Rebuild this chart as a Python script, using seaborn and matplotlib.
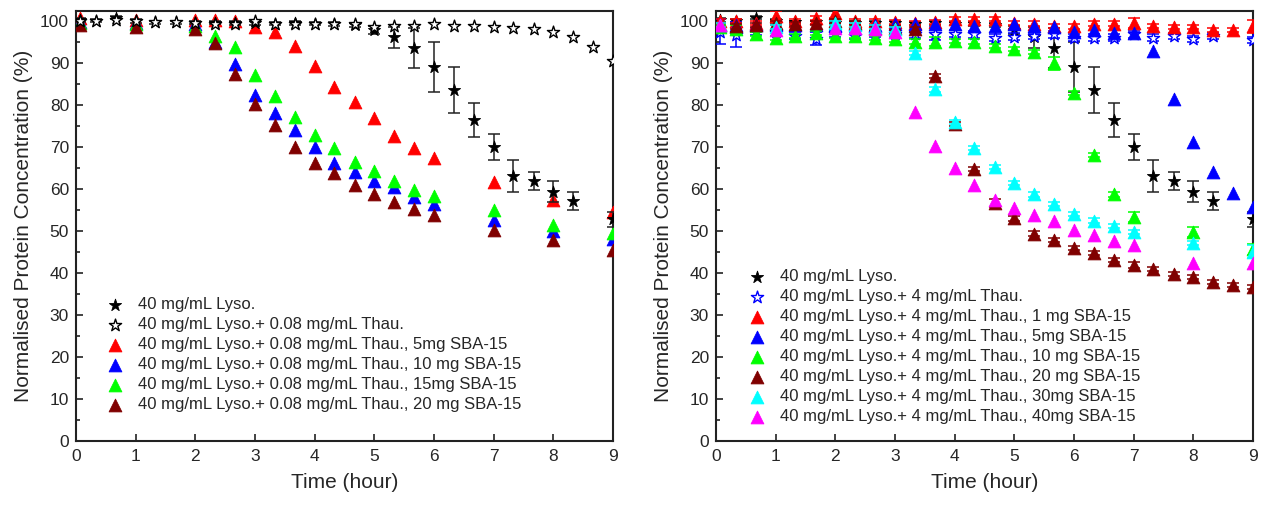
import numpy as np
import pandas as pd
import matplotlib
matplotlib.use("Agg")
import matplotlib.pyplot as plt
import seaborn as sns

nan = np.nan
# time grid (hours)
T = [0.07, 0.33, 0.67, 1.0, 1.33, 1.67, 2.0, 2.33, 2.67, 3.0, 3.33, 3.67, 4.0, 4.33,
     4.67, 5.0, 5.33, 5.67, 6.0, 6.33, 6.67, 7.0, 7.33, 7.67, 8.0, 8.33, 8.67, 9.0]

# ---- shared: 40 mg/mL Lyso.
lyso = [100.2, 100.1, 100.8, 100.0, 99.7, 99.7, 99.6, 99.6, 99.5, 99.5, 99.4, 99.5, 99.4, 99.3,
        99.0, 97.8, 96.1, 93.5, 89.0, 83.6, 76.5, 70.0, 63.1, 61.9, 59.4, 57.1, nan, 52.8]
lyso_err = [0.4, 0.4, 0.4, 0.4, 0.4, 0.4, 0.4, 0.4, 0.4, 0.4, 0.4, 0.4, 0.4, 0.4,
            0.5, 1.0, 2.5, 4.8, 6.0, 5.5, 4.0, 3.0, 3.8, 2.1, 2.4, 2.1, nan, 1.8]

# ---- left panel (0.08 mg/mL Thau.)
thau008 = [100.0, 100.0, 100.3, 100.0, 99.7, 99.7, 99.5, 99.3, 99.3, 100.1, 99.4, 99.4, 99.4, 99.3,
           99.3, 98.5, 98.7, 98.7, 99.3, 98.7, 98.7, 98.5, 98.3, 98.2, 97.5, 96.3, 93.9, 90.5]
L_5mg = [100.6, nan, nan, 100.2, nan, nan, 100.2, 100.2, 100.0, 98.6, 97.5, 94.1, 89.4, 84.4,
         80.6, 76.8, 72.6, 69.8, 67.5, nan, nan, 61.6, nan, nan, 57.5, nan, nan, 54.6]
L_10mg = [99.8, nan, nan, 99.6, nan, nan, 99.3, 94.9, 89.7, 82.5, 78.0, 74.0, 70.1, 66.1,
          64.1, 62.0, 60.4, 58.2, 56.4, nan, nan, 52.7, nan, nan, 50.0, nan, nan, 48.0]
L_15mg = [99.5, nan, nan, 99.2, nan, nan, 98.8, 96.5, 93.7, 87.1, 82.2, 77.2, 72.9, 69.7,
          66.5, 64.4, 61.9, 59.8, 58.4, nan, nan, 55.0, nan, nan, 51.4, nan, nan, 49.6]
L_20mg = [99.0, nan, nan, 98.6, nan, nan, 98.1, 94.7, 87.3, 80.2, 75.2, 70.1, 66.1, 63.7,
          61.0, 58.7, 57.0, 55.2, 53.8, nan, nan, 50.2, nan, nan, 47.9, nan, nan, 45.5]
L_labels = ["40 mg/mL Lyso.",
            "40 mg/mL Lyso.+ 0.08 mg/mL Thau.",
            "40 mg/mL Lyso.+ 0.08 mg/mL Thau., 5mg SBA-15",
            "40 mg/mL Lyso.+ 0.08 mg/mL Thau., 10 mg SBA-15",
            "40 mg/mL Lyso.+ 0.08 mg/mL Thau., 15mg SBA-15",
            "40 mg/mL Lyso.+ 0.08 mg/mL Thau., 20 mg SBA-15"]

# ---- right panel (4 mg/mL Thau.)
thau4 = [97.5, 96.7, 97.5, 97.3, 96.5, 95.8, 97.0, 96.5, 97.0, 97.0, 96.8, 97.0, 97.0, 96.8,
         96.0, 96.3, 96.4, 96.8, 96.0, 96.0, 96.0, 96.8, 96.0, 96.4, 95.7, 96.4, nan, 95.5]
thau4_err = [3.0, 3.0, 0.8, 0.8, 0.8, 1.5, 0.8, 0.8, 0.8, 0.8, 0.8, 1.5, 0.8, 0.8,
             0.8, 0.8, 0.8, 0.8, 0.8, 0.8, 0.8, 0.8, 0.8, 0.8, 0.8, 0.8, nan, 0.8]
R_1mg = [100.0, 100.0, 99.5, 101.2, 100.0, 100.7, 101.8, 99.9, 99.9, 99.8, 99.6, 99.8, 100.4, 100.4,
         100.4, 99.6, 99.4, 98.9, 98.7, 99.4, 99.4, 99.6, 98.9, 98.6, 98.6, 97.8, 97.8, 98.7]
R_1mg_err = [0.5, 0.5, 0.5, 1.2, 0.5, 0.5, 1.2, 0.5, 0.5, 0.5, 0.5, 0.5, 0.5, 0.5,
             0.5, 0.5, 0.5, 0.5, 0.5, 0.5, 0.5, 1.2, 0.5, 0.5, 0.5, 0.5, 0.5, 1.6]
R_5mg = [99.0, 99.0, 99.0, 99.0, 99.0, 99.0, 99.0, 99.2, 99.0, 99.2, 99.4, 99.4, 99.2, 98.7,
         98.9, 99.2, 98.9, 98.6, 97.4, 97.8, 97.1, 97.1, 92.9, 81.4, 71.1, 64.0, 59.0, 55.8]
R_10mg = [98.5, 98.0, 96.9, 96.0, 96.4, 97.1, 96.4, 96.4, 96.0, 95.6, 95.1, 95.1, 95.3, 95.1,
          94.1, 93.3, 92.7, 89.9, 82.8, 68.1, 58.7, 53.4, nan, nan, 49.8, nan, nan, 45.6]
R_10mg_err = [0.5, 1.0, 0.5, 0.5, 0.5, 0.5, 0.5, 0.5, 0.5, 0.5, 0.5, 1.0, 0.5, 0.5,
              0.5, 0.5, 0.5, 1.5, 0.5, 0.5, 0.5, 1.2, nan, nan, 1.2, nan, nan, 1.2]
R_20mg = [99.0, 98.7, 99.1, 99.5, 99.3, 99.5, 100.0, 99.5, 98.3, 98.4, 98.0, 86.9, 75.5, 64.7,
          56.7, 53.0, 49.4, 47.9, 45.9, 44.8, 43.1, 41.9, 40.9, 39.8, 39.0, 37.9, 37.1, 36.6]
R_20mg_err = [0.5, 0.5, 0.5, 0.5, 0.5, 0.5, 0.5, 0.5, 0.5, 0.5, 0.5, 0.5, 0.5, 0.5,
              1.0, 0.5, 0.5, 0.5, 0.5, 0.5, 0.5, 0.8, 0.5, 0.5, 0.5, 0.5, 0.5, 0.5]
R_30mg = [99.0, nan, nan, 98.5, nan, nan, 99.5, 99.0, 98.5, 98.0, 92.3, 83.7, 75.9, 69.8,
          65.3, 61.5, 58.7, 56.4, 54.0, 52.5, 51.2, 49.8, nan, nan, 47.1, nan, nan, 45.1]
R_30mg_err = [0.5, nan, nan, 0.5, nan, nan, 0.5, 0.5, 0.5, 0.5, 0.5, 0.5, 0.5, 0.5,
              0.5, 0.5, 0.5, 0.5, 0.5, 0.5, 0.5, 0.5, nan, nan, 0.5, nan, nan, 1.5]
R_40mg = [99.1, nan, nan, 97.9, nan, nan, 98.3, 98.3, 98.0, 97.5, 78.4, 70.2, 64.9, 61.0,
          57.4, 55.4, 53.8, 52.4, 50.2, 49.0, 47.6, 46.7, nan, nan, 42.5, nan, nan, 42.3]
R_labels = ["40 mg/mL Lyso.",
            "40 mg/mL Lyso.+ 4 mg/mL Thau.",
            "40 mg/mL Lyso.+ 4 mg/mL Thau., 1 mg SBA-15",
            "40 mg/mL Lyso.+ 4 mg/mL Thau., 5mg SBA-15",
            "40 mg/mL Lyso.+ 4 mg/mL Thau., 10 mg SBA-15",
            "40 mg/mL Lyso.+ 4 mg/mL Thau., 20 mg SBA-15",
            "40 mg/mL Lyso.+ 4 mg/mL Thau., 30mg SBA-15",
            "40 mg/mL Lyso.+ 4 mg/mL Thau., 40mg SBA-15"]

x_ticks = [0, 1, 2, 3, 4, 5, 6, 7, 8, 9]
y_ticks = [0, 10, 20, 30, 40, 50, 60, 70, 80, 90, 100]

# ---------------------------------------------------------------- styling
sns.set_style("ticks")
plt.rcParams["font.family"] = ["Liberation Sans", "DejaVu Sans"]
plt.rcParams["axes.linewidth"] = 1.5
plt.rcParams["axes.edgecolor"] = "#222222"

RED, BLUE, GREEN, DRED, CYAN, MAG = "#ff0000", "#0000ff", "#00ff00", "#800000", "#00ffff", "#ff00ff"
MS = 85  # marker area (pt^2)

fig = plt.figure(figsize=(12.65, 5.08), dpi=100)
axL = fig.add_axes([0.0601, 0.1319, 0.4245, 0.8474])
axR = fig.add_axes([0.5660, 0.1319, 0.4245, 0.8474])


def series(ax, vals, marker, face, edge, label, err=None, ecolor=None, z=3, lw=0.6):
    df = pd.DataFrame({"t": T, "v": vals})
    if err is not None:
        df["e"] = err
    df = df.dropna(subset=["v"])
    if err is not None:
        d2 = df.dropna(subset=["e"])
        ax.errorbar(d2["t"], d2["v"], yerr=d2["e"], fmt="none", ecolor=ecolor or edge,
                    elinewidth=1.1, capsize=4, capthick=1.1, zorder=z - 0.5)
    sns.scatterplot(data=df, x="t", y="v", marker=marker, s=MS, color=face,
                    edgecolor=edge, linewidth=lw, label=label, ax=ax, zorder=z, legend=False)


# left panel: triangles first, stars on top
series(axL, L_5mg, "^", RED, RED, L_labels[2], z=3)
series(axL, L_10mg, "^", BLUE, BLUE, L_labels[3], z=4)
series(axL, L_15mg, "^", GREEN, GREEN, L_labels[4], z=5)
series(axL, L_20mg, "^", DRED, DRED, L_labels[5], z=6)
series(axL, lyso, "*", "black", "black", L_labels[0], err=lyso_err, ecolor="#222222", z=7)
series(axL, thau008, "*", "white", "black", L_labels[1], z=8, lw=1.0)

# right panel in legend order
series(axR, lyso, "*", "black", "black", R_labels[0], err=lyso_err, ecolor="#222222", z=3)
series(axR, thau4, "*", "white", BLUE, R_labels[1], err=thau4_err, z=4, lw=1.0)
series(axR, R_1mg, "^", RED, RED, R_labels[2], err=R_1mg_err, z=5)
series(axR, R_5mg, "^", BLUE, BLUE, R_labels[3], z=6)
series(axR, R_10mg, "^", GREEN, GREEN, R_labels[4], err=R_10mg_err, z=7)
series(axR, R_20mg, "^", DRED, DRED, R_labels[5], err=R_20mg_err, z=8)
series(axR, R_30mg, "^", CYAN, CYAN, R_labels[6], err=R_30mg_err, z=9)
series(axR, R_40mg, "^", MAG, MAG, R_labels[7], z=10)

for ax, labels, anchor in ((axL, L_labels, (0.057, 0.334)), (axR, R_labels, (0.061, 0.399))):
    ax.set_xlim(0, 9)
    ax.set_ylim(0, 102.5)
    ax.set_xticks(x_ticks)
    ax.set_yticks(y_ticks)
    ax.set_yticks([5, 15, 25, 35, 45, 55, 65, 75, 85, 95], minor=True)
    ax.tick_params(which="major", direction="in", length=5, width=1.2, labelsize=12.5,
                   top=False, right=False, color="#222222")
    ax.tick_params(which="minor", direction="in", length=3, width=1.2, color="#222222")
    ax.tick_params(axis="x", pad=6)
    ax.tick_params(axis="y", pad=5)
    ax.set_xlabel("Time (hour)", fontsize=15, labelpad=6)
    ax.set_ylabel("Normalised Protein Concentration (%)", fontsize=15, labelpad=5)
    handles, labs = ax.get_legend_handles_labels()
    order = [labs.index(l) for l in labels]
    ax.legend([handles[i] for i in order], [labs[i] for i in order], loc="upper left",
              bbox_to_anchor=anchor, frameon=False, fontsize=12, handlelength=1.0,
              handletextpad=0.9, labelspacing=0.3, borderaxespad=0, borderpad=0,
              scatterpoints=1)
    for sp in ax.spines.values():
        sp.set_visible(True)

fig.savefig("out.png", dpi=100)
